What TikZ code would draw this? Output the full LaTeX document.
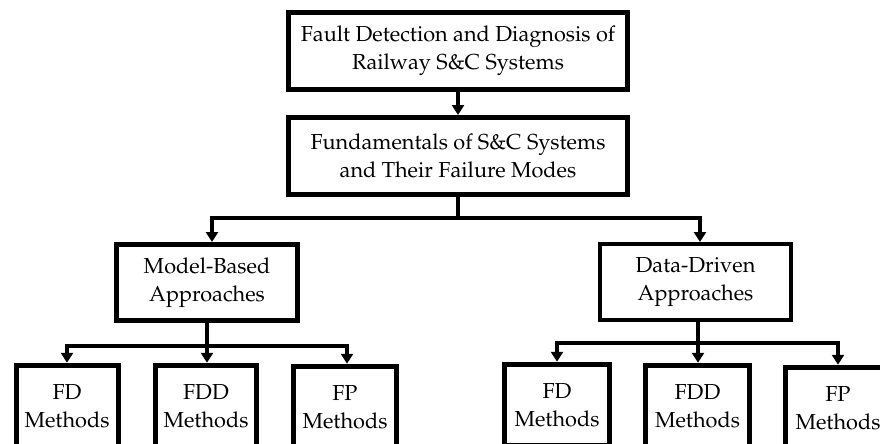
\documentclass[tikz,border=0pt]{standalone}
\usepackage[T1]{fontenc}
\usepackage{mathpazo}
\usetikzlibrary{arrows.meta}
\tikzset{
  box/.style={draw, line width=5pt, fill=white, align=center, inner sep=0pt,
    font=\fontsize{21.7}{28}\selectfont},
  ddbox/.style={box, line width=2.8pt},
  ddinner/.style={draw, line width=1.3pt},
  small/.style={box, font=\fontsize{21.7}{27.5}\selectfont, minimum height=81.5pt},
  conn/.style={line width=4pt},
  arr/.style={conn, -{Triangle[length=10pt,width=12pt]}},
}
\begin{document}
\begin{tikzpicture}[x=1pt,y=-1pt]
\fill[white] (0,0) rectangle (880,444);
\useasboundingbox (0,0) rectangle (880,444);

\node[box, minimum width=339pt, minimum height=77pt] (top) at (458,51)
  {Fault Detection and Diagnosis of\\Railway S\&C Systems};
\node[box, minimum width=339pt, minimum height=77pt] (fund) at (458,156)
  {Fundamentals of S\&C Systems\\and Their Failure Modes};
\node[box, minimum width=181pt, minimum height=76pt] (mb) at (207,282.5)
  {Model-Based\\Approaches};
\node[ddbox, minimum width=192.2pt, minimum height=77.2pt] (dd) at (695.5,282)
  {Data-Driven\\Approaches};
\draw[ddinner] ([shift={(3.4,3.4)}]dd.north west) rectangle ([shift={(-3.4,-3.4)}]dd.south east);

\node[small, minimum width=102pt] (fda) at (67,406) {FD\\Methods};
\node[small, minimum width=101pt] (fdda) at (206,406) {FDD\\Methods};
\node[small, minimum width=103pt] (fpa) at (345,407) {FP\\Methods};

\node[small, minimum width=105pt] (fdb) at (557,405) {FD\\Methods};
\node[small, minimum width=104pt] (fddb) at (697.5,406) {FDD\\Methods};
\node[small, minimum width=105pt] (fpb) at (838,408) {FP\\Methods};

\draw[arr] (top.south) -- (fund.north);
\draw[arr] (fund.south) -- ++(0,21) -| ([xshift=5pt]mb.north);
\draw[arr] (fund.south) -- ++(0,21) -| ([xshift=4.5pt]dd.north);

\draw[arr] (mb.south) -- ++(0,22.5) -| (fda.north);
\draw[arr] (mb.south) -- ([xshift=1pt]fdda.north);
\draw[arr] (mb.south) -- ++(0,22.5) -| ([xshift=2pt]fpa.north);

\draw[arr] ([xshift=2.5pt]dd.south) -- ++(0,20.5) -| (fdb.north);
\draw[arr] ([xshift=2.5pt]dd.south) -- ([xshift=0.5pt]fddb.north);
\draw[arr] ([xshift=2.5pt]dd.south) -- ++(0,20.5) -| (fpb.north);
\end{tikzpicture}
\end{document}
